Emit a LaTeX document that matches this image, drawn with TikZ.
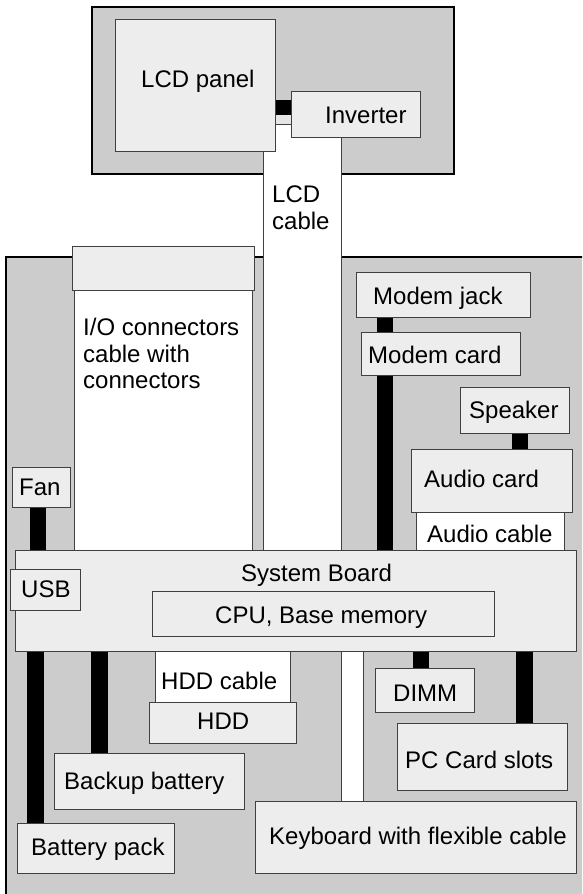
\documentclass[tikz,border=0pt]{standalone}
\usepackage{fontspec}
\setmainfont{Liberation Sans}
\usetikzlibrary{positioning}

\tikzset{
  basebox/.style={fill=black!20, draw=black, line width=2.5pt},
  comp/.style={rectangle, fill=black!7, draw=black!75, line width=1pt, inner sep=0pt},
  wcable/.style={rectangle, fill=white, draw=black!75, line width=1pt, inner sep=0pt},
  bcable/.style={draw=black, line width=16pt},
  lbl/.style={anchor=base west, inner sep=0pt, font=\fontsize{24}{27}\selectfont},
}

\begin{document}
\begin{tikzpicture}[x=1pt, y=-1pt]
    \useasboundingbox (0,0) rectangle (582,894);
    \clip (0,0) rectangle (582,894);

    % Display housing and base housing
    \filldraw[basebox] (92,7) rectangle (454,174);
    \filldraw[basebox] (6,257) rectangle (600,910);

    % White cables
    \node[wcable, minimum width=78pt, minimum height=426pt] (lcdcable) at (302,337) {};
    \node[wcable, minimum width=178pt, minimum height=260pt] (iocable) at (163,420) {};
    \node[wcable, minimum width=148pt, minimum height=38pt] (audiocable) at (490,531) {};
    \node[wcable, minimum width=135pt, minimum height=51pt] (hddcable) at (222.5,676.5) {};
    \node[wcable, minimum width=22pt, minimum height=150pt] (kbcable) at (352,726) {};

    % Display parts
    \node[comp, minimum width=160pt, minimum height=132pt] (lcd) at (195,85) {};
    \node[comp, minimum width=129pt, minimum height=46pt] (inverter) at (355.5,114) {};
    \fill[black!10] (lcd.east |- 0,115) rectangle (inverter.west |- 0,124);
    \draw[draw=black, line width=15pt] (lcd.east |- 0,107.5) -- (inverter.west |- 0,107.5);

    % Components
    \node[comp, minimum width=182pt, minimum height=44pt] (ioconn) at (163,268) {};
    \node[comp, minimum width=174pt, minimum height=45pt] (modemjack) at (443,294.5) {};
    \node[comp, minimum width=109pt, minimum height=46pt] (speaker) at (514.5,410) {};
    \node[comp, minimum width=58pt, minimum height=40pt] (fan) at (41,487) {};
    \node[comp, minimum width=561pt, minimum height=101pt] (board) at (295.5,600.5) {};

    % Black cables
    \coordinate (fx) at (38,0);
    \coordinate (mx) at (385,0);
    \coordinate (sx) at (520,0);
    \coordinate (bx) at (35.5,0);
    \coordinate (kx) at (99.5,0);
    \coordinate (dx) at (421,0);
    \coordinate (px) at (524.5,0);
    \draw[bcable] (fan.south -| fx) -- (board.north -| fx);
    \draw[bcable] (modemjack.south -| mx) -- (board.north -| mx);
    \draw[bcable, line width=17pt] (board.south -| bx) -- (0,823 -| bx);
    \draw[bcable, line width=17pt] (board.south -| kx) -- (0,753 -| kx);
    \draw[bcable] (board.south -| dx) -- (0,668 -| dx);
    \draw[bcable, line width=17pt] (board.south -| px) -- (0,723 -| px);

    \node[comp, minimum width=159pt, minimum height=43pt] (modemcard) at (440.5,353.5) {};
    \node[comp, minimum width=161pt, minimum height=63pt] (audiocard) at (491.5,480.5) {};
    \draw[bcable] (speaker.south -| sx) -- (audiocard.north -| sx);
    \node[comp, minimum width=70pt, minimum height=41pt] (usb) at (45,589.5) {};
    \node[comp, minimum width=342pt, minimum height=45pt] (cpu) at (323,613.5) {};
    \node[comp, minimum width=147pt, minimum height=41pt] (hdd) at (222.5,722.5) {};
    \node[comp, minimum width=99pt, minimum height=44pt] (dimm) at (424.5,690) {};
    \node[comp, minimum width=170pt, minimum height=67pt] (pccard) at (482,756.5) {};
    \node[comp, minimum width=190pt, minimum height=56pt] (backup) at (149,781) {};
    \node[comp, minimum width=157pt, minimum height=50pt] (battery) at (95.5,848) {};
    \node[comp, minimum width=321pt, minimum height=72pt] (keyboard) at (415.5,837) {};

    % Labels
    \node[lbl] (lcd-t) at (141,87) {LCD panel};
    \node[lbl] (inverter-t) at (325,123) {Inverter};
    \node[lbl] (lcdcable-t1) at (272,202) {LCD};
    \node[lbl] (lcdcable-t2) at (272,229) {cable};
    \node[lbl] (iocable-t1) at (83,335) {I/O connectors};
    \node[lbl] (iocable-t2) at (83,362) {cable with};
    \node[lbl] (iocable-t3) at (83,388) {connectors};
    \node[lbl] (modemjack-t) at (373,304) {Modem jack};
    \node[lbl] (modemcard-t) at (368,363) {Modem card};
    \node[lbl] (speaker-t) at (469,418) {Speaker};
    \node[lbl] (audiocard-t) at (424,487) {Audio card};
    \node[lbl] (audiocable-t) at (427,542) {Audio cable};
    \node[lbl] (fan-t) at (19,495) {Fan};
    \node[lbl] (usb-t) at (21,597) {USB};
    \node[lbl] (board-t) at (241,581) {System Board};
    \node[lbl] (cpu-t) at (215,623) {CPU, Base memory};
    \node[lbl] (hddcable-t) at (161,689) {HDD cable};
    \node[lbl] (hdd-t) at (197,729) {HDD};
    \node[lbl] (dimm-t) at (393,701) {DIMM};
    \node[lbl] (pccard-t) at (405,768) {PC Card slots};
    \node[lbl] (backup-t) at (64,789) {Backup battery};
    \node[lbl] (battery-t) at (31,855) {Battery pack};
    \node[lbl] (keyboard-t) at (269,844) {Keyboard with flexible cable};
\end{tikzpicture}
\end{document}
